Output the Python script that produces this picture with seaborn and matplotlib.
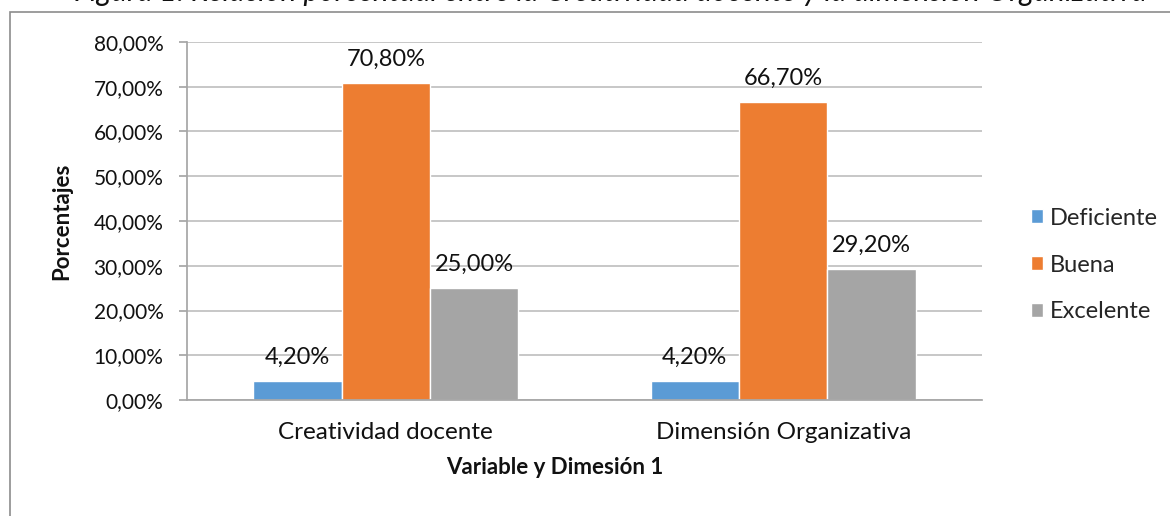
import numpy as np
import pandas as pd
import seaborn as sns
import matplotlib.pyplot as plt
from matplotlib.patches import Rectangle
from matplotlib.ticker import FuncFormatter

# data
categorias = ['Creatividad docente', 'Dimensión Organizativa']
niveles = ['Deficiente', 'Buena', 'Excelente']
deficiente = [4.2, 4.2]
buena = [70.8, 66.7]
excelente = [25.0, 29.2]
colores = ['#5B9BD5', '#ED7D31', '#A5A5A5']

df = pd.DataFrame({
    'categoria': categorias * 3,
    'nivel': [n for n in niveles for _ in categorias],
    'valor': deficiente + buena + excelente,
})

sns.set_theme(style='white')
plt.rcParams['font.family'] = ['Lato', 'DejaVu Sans']

fig = plt.figure(figsize=(11.7, 5.16), dpi=100)
ax = fig.add_axes([187/1170, 1-400/516, (982-187)/1170, (400-42)/516])

sns.barplot(data=df, x='categoria', y='valor', hue='nivel', hue_order=niveles,
            palette=colores, width=0.667, saturation=1, ax=ax, legend=True)

def fmt(v):
    return f'{v:.2f}'.replace('.', ',') + '%'

# data labels
for cont in ax.containers:
    for bar in cont:
        h = bar.get_height()
        ax.annotate(fmt(h), (bar.get_x() + bar.get_width()/2, h),
                    xytext=(0, 13), textcoords='offset pixels',
                    ha='center', va='bottom', fontsize=17, color='#111111')

ax.set_ylim(0, 80)
ax.set_yticks(np.arange(0, 81, 10))
ax.yaxis.set_major_formatter(FuncFormatter(lambda v, p: fmt(v)))
ax.grid(axis='y', color='#bdbdbd', linewidth=1.2)
ax.set_axisbelow(True)
for s in ['top', 'right']:
    ax.spines[s].set_visible(False)
ax.spines['left'].set_color('#a6a6a6')
ax.spines['bottom'].set_color('#a6a6a6')
ax.tick_params(axis='y', length=6, color='#a6a6a6', labelsize=15, pad=11, left=True)
ax.tick_params(axis='x', length=0, labelsize=17.5, pad=16)
for lab in ax.get_xticklabels() + ax.get_yticklabels():
    lab.set_color('#111111')

ax.set_ylabel('Porcentajes', fontsize=16, fontweight='bold', color='#111111', va='center')
ax.yaxis.set_label_coords((62-187)/795, 0.5)
ax.set_xlabel('Variable y Dimesión 1', fontsize=16, fontweight='bold', color='#111111', va='center')
ax.xaxis.set_label_coords((555-187)/795, (400-468)/358)

handles, labels = ax.get_legend_handles_labels()
ax.get_legend().remove()
fig.legend(handles, labels, loc='center left', bbox_to_anchor=(1010/1170, 1-265/516),
           frameon=False, fontsize=17, handlelength=0.5, handleheight=0.5,
           handletextpad=0.3, labelspacing=1.1)

# outer chart frame, cut by the image edge
fig.patches.append(Rectangle((10/1170, -0.1), 1.2, 1.1-12/516, transform=fig.transFigure,
                             fill=False, edgecolor='#8c8c8c', linewidth=1.2))

# caption above the frame, cut off by the top edge
fig.text(74/1170, 1-1/516, 'Figura 1. Relación porcentual entre la Creatividad docente y la dimensión Organizativa',
         fontsize=21.5, style='italic', ha='left', va='baseline', color='#111111')

fig.savefig('out.png', dpi=100)
